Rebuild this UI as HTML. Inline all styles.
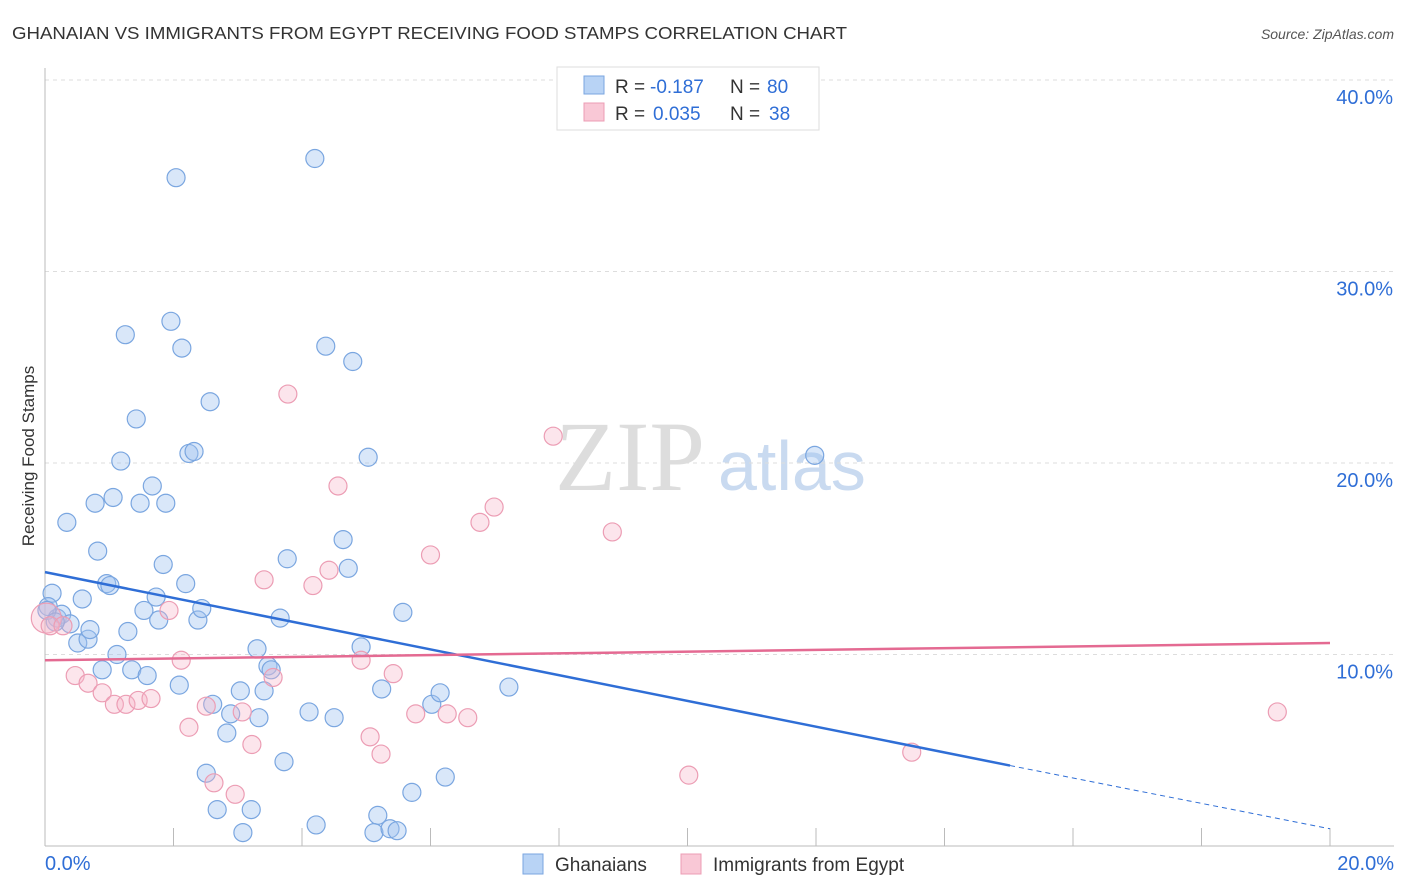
<!DOCTYPE html>
<html><head><meta charset="utf-8"><style>
body{margin:0;background:#fff;font-family:"Liberation Sans",sans-serif;}
#wrap{position:relative;width:1406px;height:892px;overflow:hidden;}
</style></head><body><div id="wrap">
<svg id="svg" width="1406" height="892" xmlns="http://www.w3.org/2000/svg">
<text x="12" y="39" font-size="17.5" fill="#333" textLength="835" lengthAdjust="spacingAndGlyphs">GHANAIAN VS IMMIGRANTS FROM EGYPT RECEIVING FOOD STAMPS CORRELATION CHART</text>
<text x="1394" y="39" font-size="14" fill="#555" font-style="italic" text-anchor="end">Source: ZipAtlas.com</text>
<text transform="translate(34,456) rotate(-90)" font-size="17" fill="#333" text-anchor="middle">Receiving Food Stamps</text>
<text x="555" y="490" font-size="100" fill="#ddd" font-family="Liberation Serif,serif">ZIP</text>
<text x="718" y="490" font-size="70" fill="#c9daf0">atlas</text>
<g id="grid"></g><g id="marks"></g><g id="lines"></g>
<g>
<rect x="557" y="67" width="262" height="63" fill="#fff" stroke="#ddd"/>
<rect x="584" y="76" width="20" height="18" fill="#b8d3f5" stroke="#7aa6e0"/>
<rect x="584" y="103" width="20" height="18" fill="#f9c8d6" stroke="#ec9db4"/>
<text x="615" y="93" font-size="19" fill="#333">R =</text>
<text x="650" y="93" font-size="19" fill="#2f6ed6">-0.187</text>
<text x="730" y="93" font-size="19" fill="#333">N =</text>
<text x="767" y="93" font-size="19" fill="#2f6ed6">80</text>
<text x="615" y="120" font-size="19" fill="#333">R =</text>
<text x="653" y="120" font-size="19" fill="#2f6ed6">0.035</text>
<text x="730" y="120" font-size="19" fill="#333">N =</text>
<text x="769" y="120" font-size="19" fill="#2f6ed6">38</text>
</g>
<g>
<rect x="523" y="854" width="20" height="20" fill="#b8d3f5" stroke="#7aa6e0"/>
<text x="555" y="871" font-size="19" fill="#333">Ghanaians</text>
<rect x="681" y="854" width="20" height="20" fill="#f9c8d6" stroke="#ec9db4"/>
<text x="713" y="871" font-size="19" fill="#333">Immigrants from Egypt</text>
</g>
</svg></div>
<script>
const yTicks=[10,20,30,40];
const yTickLabels=["10.0%","20.0%","30.0%","40.0%"];
const xTickLabels=["0.0%","20.0%"];
const blueX=[0.11,0.05,0.19,0.26,0.39,0.34,0.51,0.58,0.67,0.70,0.78,0.82,0.89,0.96,1.01,1.06,1.12,1.18,1.25,1.29,1.35,1.42,1.48,1.54,1.59,1.67,1.73,1.77,1.84,1.88,1.96,2.04,2.09,2.13,2.19,2.24,2.32,2.38,2.44,2.51,2.57,2.61,2.68,2.83,2.89,3.04,3.08,3.21,3.30,3.33,3.41,3.47,3.52,3.66,3.72,3.77,4.11,4.20,4.22,4.37,4.50,4.64,4.72,4.79,4.92,5.03,5.18,5.24,5.12,5.37,5.48,5.57,5.71,6.02,6.15,6.23,7.22,11.98,0.03,0.16];
const blueY=[13.2,12.5,11.9,12.1,11.6,16.9,10.6,12.9,10.8,11.3,17.9,15.4,9.2,13.7,13.6,18.2,10.0,20.1,26.7,11.2,9.2,22.3,17.9,12.3,8.9,18.8,13.0,11.8,14.7,17.9,27.4,34.9,8.4,26.0,13.7,20.5,20.6,11.8,12.4,3.8,23.2,7.4,1.9,5.9,6.9,8.1,0.7,1.9,10.3,6.7,8.1,9.4,9.2,11.9,4.4,15.0,7.0,35.9,1.1,26.1,6.7,16.0,14.5,25.3,10.4,20.3,1.6,8.2,0.7,0.9,0.8,12.2,2.8,7.4,8.0,3.6,8.3,20.4,12.3,11.7];
const pinkX=[0.02,0.08,0.28,0.47,0.67,0.89,1.08,1.26,1.45,1.65,1.93,2.12,2.24,2.51,2.63,2.96,3.07,3.22,3.41,3.55,3.78,4.17,4.42,4.56,4.92,5.06,5.23,5.42,5.77,6.00,6.26,6.58,6.77,6.99,7.91,8.83,10.02,13.49,19.18];
const pinkY=[11.9,11.5,11.5,8.9,8.5,8.0,7.4,7.4,7.6,7.7,12.3,9.7,6.2,7.3,3.3,2.7,7.0,5.3,13.9,8.8,23.6,13.6,14.4,18.8,9.7,5.7,4.8,9.0,6.9,15.2,6.9,6.7,16.9,17.7,21.4,16.4,3.7,4.9,7.0];
const blueLine={x0:0,y0:14.3,x1:15.02,y1:4.2,x2:20,y2:0.9};
const pinkLine={x0:0,y0:9.7,x1:20,y1:10.6};
const X=v=>45+v/20*1285, Y=v=>846-v*19.15;
const NS="http://www.w3.org/2000/svg";
function mk(t,a,p){const e=document.createElementNS(NS,t);for(const k in a)e.setAttribute(k,a[k]);p.appendChild(e);return e;}
const grid=document.getElementById('grid'),marks=document.getElementById('marks'),lines=document.getElementById('lines');
yTicks.forEach((t,i)=>{
 const l=mk('line',{x1:45,x2:1394,y1:Y(t),y2:Y(t),stroke:'#ddd','stroke-dasharray':'4,4'},grid);
 
 
 const tx=mk('text',{x:1393,y:Y(t)+24,'font-size':20,fill:'#2f6ed6','text-anchor':'end'},grid);
 tx.textContent=yTickLabels[i];
 
 
});
const ax=mk('line',{x1:45,x2:45,y1:68,y2:846,stroke:'#bbb'},grid);


const bx=mk('line',{x1:45,x2:1394,y1:846,y2:846,stroke:'#bbb'},grid);


for(let i=1;i<=10;i++){const t=mk('line',{x1:X(i*2),x2:X(i*2),y1:828,y2:846,stroke:'#bbb'},grid);
 
 }
[[0,'start',45],[20,'end',1394]].forEach((d,i)=>{const t=mk('text',{x:d[2],y:870,'font-size':20,fill:'#2f6ed6','text-anchor':d[1]},grid);t.textContent=xTickLabels[i];
 
 });
blueX.forEach((v,i)=>{const c=mk('circle',{cx:X(v),cy:Y(blueY[i]),r:9,fill:'rgba(160,196,240,0.4)',stroke:'#7aa6e0','stroke-width':1.2},marks);
 
 });
pinkX.forEach((v,i)=>{const c=mk('circle',{cx:X(v),cy:Y(pinkY[i]),r:i==0?15:9,fill:'rgba(245,180,200,0.35)',stroke:'#ec9db4','stroke-width':1.2},marks);
 
 });
const b1=mk('line',{x1:X(blueLine.x0),y1:Y(blueLine.y0),x2:X(blueLine.x1),y2:Y(blueLine.y1),stroke:'#2f6ed6','stroke-width':2.5},lines);


const b2=mk('line',{x1:X(blueLine.x1),y1:Y(blueLine.y1),x2:X(blueLine.x2),y2:Y(blueLine.y2),stroke:'#2f6ed6','stroke-width':1,'stroke-dasharray':'5,4'},lines);


const p1=mk('line',{x1:X(pinkLine.x0),y1:Y(pinkLine.y0),x2:X(pinkLine.x1),y2:Y(pinkLine.y1),stroke:'#e46a92','stroke-width':2.5},lines);


</script></body></html>
